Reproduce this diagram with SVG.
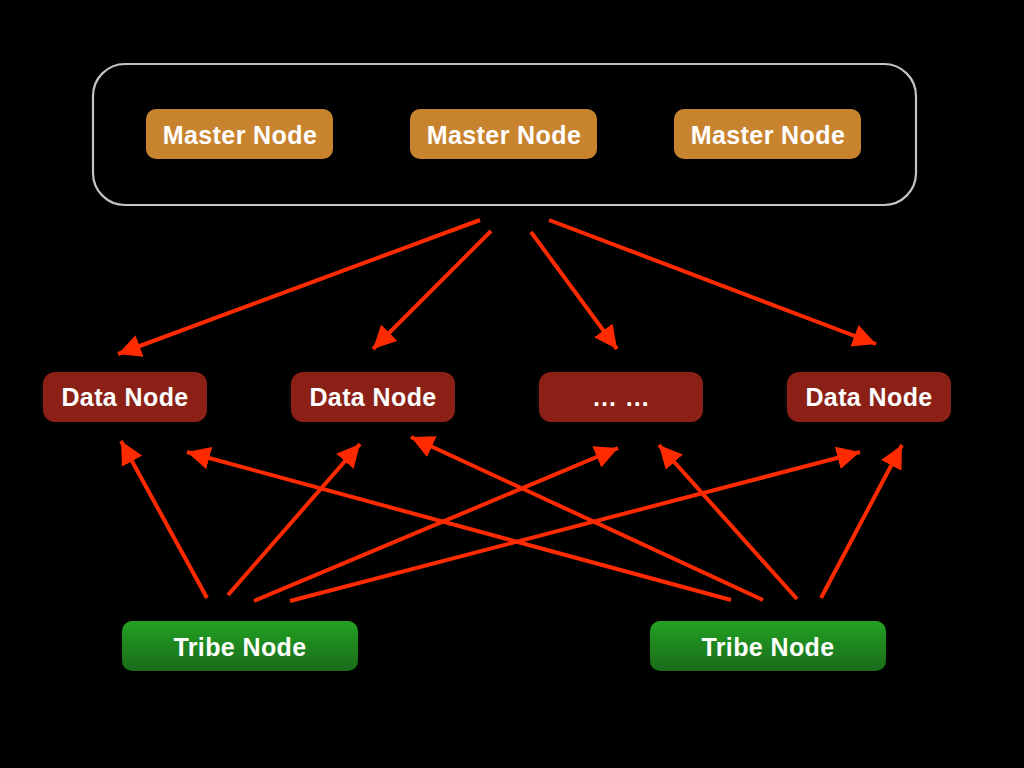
<svg xmlns="http://www.w3.org/2000/svg" width="1024" height="768" viewBox="0 0 1024 768">
<defs>
<style>
.lbl{font-family:"Liberation Sans",Arial,Helvetica,sans-serif;font-weight:bold;font-size:25px;fill:#ffffff;text-anchor:middle;letter-spacing:0.4px}
.master{fill:#c8832f}
.data{fill:#8b2116}
.tribe{fill:url(#greenGrad)}
.conn{stroke:#ff2a00;stroke-width:4;fill:none;marker-end:url(#arrow)}
</style>
<linearGradient id="greenGrad" x1="0" y1="0" x2="0" y2="1">
<stop offset="0" stop-color="#22a222"/>
<stop offset="1" stop-color="#1a6b1a"/>
</linearGradient>
<marker id="arrow" viewBox="0 0 20 20" refX="20" refY="10" markerWidth="23" markerHeight="23" markerUnits="userSpaceOnUse" orient="auto">
<path d="M0,0 L20,10 L0,20 z" fill="#ff2a00"/>
</marker>
</defs>
<rect width="1024" height="768" fill="#000000"/>
<g id="master-group">
<rect x="93" y="64" width="823" height="141" rx="32" ry="32" fill="none" stroke="#c4c4c4" stroke-width="2.2"/>
</g>
<g id="master1"><rect class="master" x="146" y="109" width="187" height="50" rx="10"/><text class="lbl" x="240" y="144">Master Node</text></g>
<g id="master2"><rect class="master" x="410" y="109" width="187" height="50" rx="10"/><text class="lbl" x="504" y="144">Master Node</text></g>
<g id="master3"><rect class="master" x="674" y="109" width="187" height="50" rx="10"/><text class="lbl" x="768" y="144">Master Node</text></g>
<g id="data1"><rect class="data" x="43" y="372" width="164" height="50" rx="12"/><text class="lbl" x="125" y="406">Data Node</text></g>
<g id="data2"><rect class="data" x="291" y="372" width="164" height="50" rx="12"/><text class="lbl" x="373" y="406">Data Node</text></g>
<g id="data3"><rect class="data" x="539" y="372" width="164" height="50" rx="12"/><text class="lbl" x="621" y="406">… …</text></g>
<g id="data4"><rect class="data" x="787" y="372" width="164" height="50" rx="12"/><text class="lbl" x="869" y="406">Data Node</text></g>
<g id="tribe1"><rect class="tribe" x="122" y="621" width="236" height="50" rx="10"/><text class="lbl" x="240" y="656">Tribe Node</text></g>
<g id="tribe2"><rect class="tribe" x="650" y="621" width="236" height="50" rx="10"/><text class="lbl" x="768" y="656">Tribe Node</text></g>
<g id="connectors">
<line class="conn" x1="480" y1="220" x2="118" y2="354"/>
<line class="conn" x1="491" y1="231" x2="373" y2="349"/>
<line class="conn" x1="531" y1="232" x2="617" y2="349"/>
<line class="conn" x1="549" y1="220" x2="876" y2="344"/>
<line class="conn" x1="207" y1="598" x2="121" y2="441"/>
<line class="conn" x1="228" y1="595" x2="360" y2="444"/>
<line class="conn" x1="254" y1="601" x2="618" y2="448"/>
<line class="conn" x1="290" y1="601" x2="860" y2="452"/>
<line class="conn" x1="731" y1="600" x2="187" y2="452"/>
<line class="conn" x1="763" y1="600" x2="411" y2="437"/>
<line class="conn" x1="797" y1="599" x2="659" y2="445"/>
<line class="conn" x1="821" y1="598" x2="902" y2="445"/>
</g>
</svg>
